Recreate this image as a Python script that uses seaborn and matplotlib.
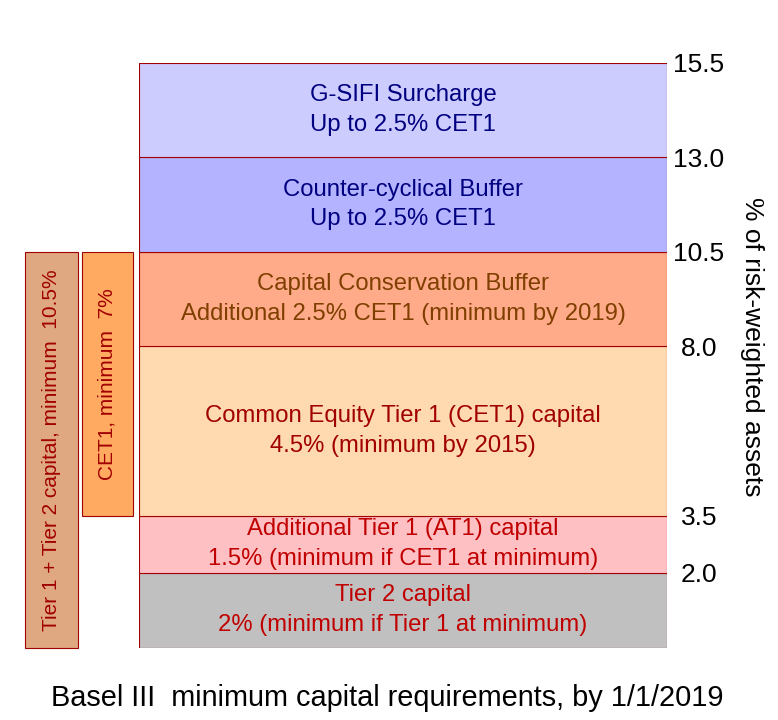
import numpy as np
import matplotlib
matplotlib.use("Agg")
import matplotlib.pyplot as plt
import seaborn as sns

# Basel III capital stack (bottom to top), % of risk-weighted assets
layer_labels = [
    "Tier 2 capital\n2% (minimum if Tier 1 at minimum)",
    "Additional Tier 1 (AT1) capital\n1.5% (minimum if CET1 at minimum)",
    "Common Equity Tier 1 (CET1) capital\n4.5% (minimum by 2015)",
    "Capital Conservation Buffer\nAdditional 2.5% CET1 (minimum by 2019)",
    "Counter-cyclical Buffer\nUp to 2.5% CET1",
    "G-SIFI Surcharge\nUp to 2.5% CET1",
]
layer_sizes = [2.0, 1.5, 4.5, 2.5, 2.5, 2.5]
layer_colors = ["#c0c0c0", "#ffc0c4", "#ffd9b0", "#ffaa88", "#b3b3ff", "#ccccff"]
text_colors = ["#c00000", "#c00000", "#a00000", "#7f3f00", "#000080", "#000080"]

# summary boxes on the left
summary_labels = ["Tier 1 + Tier 2 capital, minimum  10.5%", "CET1, minimum  7%"]
summary_bottoms = [0.0, 3.5]
summary_heights = [10.5, 7.0]
summary_colors = ["#e0a880", "#ffaa60"]

edge = "#a00000"

sns.set_theme(style="white")
plt.rcParams["font.family"] = ["Liberation Sans", "DejaVu Sans"]

fig = plt.figure(figsize=(7.78, 7.2), dpi=100)
ax = fig.add_axes([139 / 778, 72 / 720, 528 / 778, 585 / 720])

bottoms = np.concatenate([[0], np.cumsum(layer_sizes)[:-1]])
tops = np.cumsum(layer_sizes)

ax.bar(0.5, layer_sizes, bottom=bottoms, width=1.0, color=layer_colors,
       edgecolor=edge, linewidth=0.8)
for lab, b, s, c in zip(layer_labels, bottoms, layer_sizes, text_colors):
    ax.text(0.5, b + s / 2, lab, ha="center", va="center", fontsize=17.2,
            color=c, linespacing=1.45)

# left boxes (outside the axes area)
box_x = [-0.1657, -0.0597]
box_w = [0.1004, 0.0966]
ax.bar(box_x, summary_heights, bottom=summary_bottoms, width=box_w,
       color=summary_colors, edgecolor=edge, linewidth=0.8, clip_on=False)
for x, lab, b, h in zip(box_x, summary_labels, summary_bottoms, summary_heights):
    ax.text(x, b + h / 2, lab, rotation=90, ha="center", va="center",
            fontsize=15, color="#a00000", clip_on=False)

ax.set_xlim(0, 1)
ax.set_ylim(0, tops[-1])
ax.set_xticks([])
ax.yaxis.tick_right()
ax.set_yticks(tops)
ax.set_yticklabels([f"{t:.1f}" for t in tops])
ax.tick_params(axis="y", length=0, pad=23, labelsize=19, labelcolor="black")
for lbl in ax.get_yticklabels():
    lbl.set_horizontalalignment("center")
for sp in ax.spines.values():
    sp.set_visible(False)

fig.text(752 / 778, 1 - 347 / 720, "% of risk-weighted assets", rotation=270,
         ha="center", va="center", fontsize=19, color="black")
fig.text(387 / 778, 1 - 698 / 720,
         "Basel III  minimum capital requirements, by 1/1/2019",
         ha="center", va="center", fontsize=20.8, color="black")

fig.savefig("out.png", dpi=100)
